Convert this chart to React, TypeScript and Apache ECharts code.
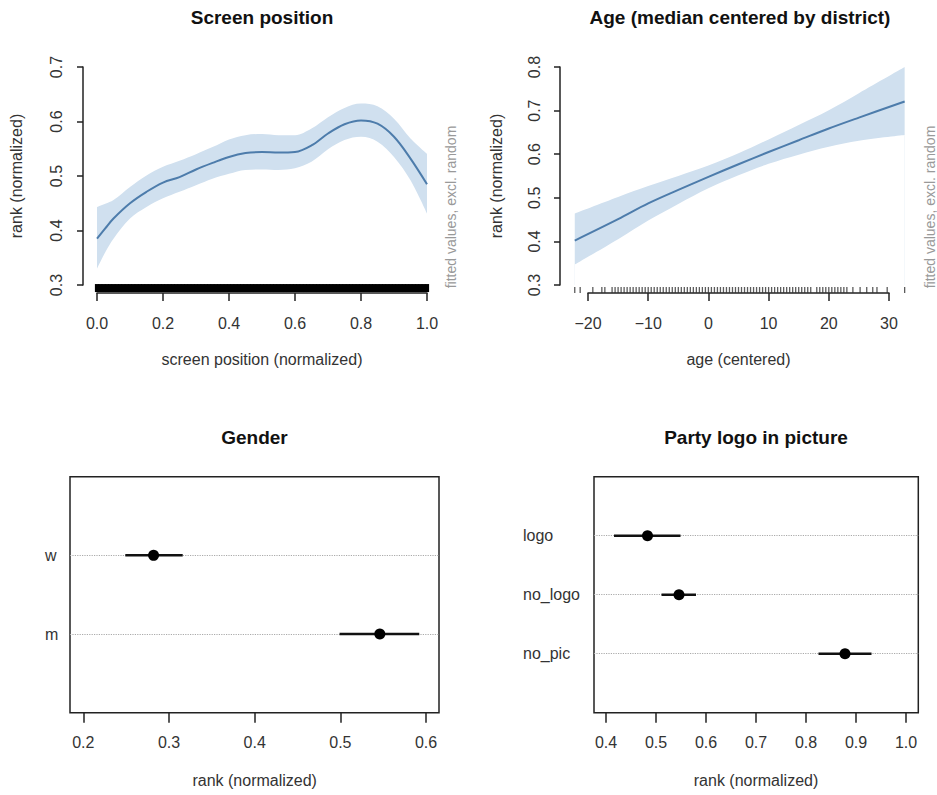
import React, { useEffect, useRef } from 'react';
import * as echarts from 'echarts';

const FONT = 'Liberation Sans, Arial, Helvetica, sans-serif';

// Panel 1: screen position smooth
const screenX = [0, 0.025, 0.05, 0.1, 0.15, 0.2, 0.25, 0.3, 0.35, 0.4, 0.45, 0.5, 0.55, 0.6, 0.65, 0.7, 0.75, 0.8, 0.85, 0.9, 0.95, 1.0];
const screenFit = [0.385, 0.404, 0.422, 0.450, 0.471, 0.488, 0.498, 0.512, 0.524, 0.535, 0.542, 0.544, 0.543, 0.544, 0.556, 0.578, 0.595, 0.602, 0.596, 0.572, 0.532, 0.485];
const screenHi = [0.443, 0.449, 0.456, 0.480, 0.501, 0.517, 0.528, 0.540, 0.553, 0.567, 0.575, 0.577, 0.575, 0.575, 0.587, 0.608, 0.625, 0.633, 0.628, 0.605, 0.569, 0.541];
const screenLo = [0.330, 0.360, 0.385, 0.422, 0.443, 0.459, 0.471, 0.483, 0.495, 0.504, 0.511, 0.512, 0.511, 0.514, 0.526, 0.549, 0.566, 0.572, 0.563, 0.535, 0.492, 0.431];
const screenRug = [
  0, 0.01, 0.02, 0.03, 0.04, 0.05, 0.06, 0.07, 0.08, 0.09, 0.1, 0.11, 0.12, 0.13, 0.14, 0.15, 0.16, 0.17, 0.18, 0.19,
  0.2, 0.21, 0.22, 0.23, 0.24, 0.25, 0.26, 0.27, 0.28, 0.29, 0.3, 0.31, 0.32, 0.33, 0.34, 0.35, 0.36, 0.37, 0.38, 0.39,
  0.4, 0.41, 0.42, 0.43, 0.44, 0.45, 0.46, 0.47, 0.48, 0.49, 0.5, 0.51, 0.52, 0.53, 0.54, 0.55, 0.56, 0.57, 0.58, 0.59,
  0.6, 0.61, 0.62, 0.63, 0.64, 0.65, 0.66, 0.67, 0.68, 0.69, 0.7, 0.71, 0.72, 0.73, 0.74, 0.75, 0.76, 0.77, 0.78, 0.79,
  0.8, 0.81, 0.82, 0.83, 0.84, 0.85, 0.86, 0.87, 0.88, 0.89, 0.9, 0.91, 0.92, 0.93, 0.94, 0.95, 0.96, 0.97, 0.98, 0.99, 1.0,
];

// Panel 2: age
const ageX = [-22.2, -15, -10, -5, 0, 5, 10, 15, 20, 25, 32.6];
const ageFit = [0.402, 0.451, 0.487, 0.518, 0.548, 0.577, 0.605, 0.632, 0.659, 0.684, 0.721];
const ageHi = [0.464, 0.502, 0.527, 0.550, 0.574, 0.602, 0.634, 0.667, 0.701, 0.740, 0.800];
const ageLo = [0.347, 0.405, 0.448, 0.486, 0.522, 0.552, 0.578, 0.599, 0.617, 0.631, 0.644];
const ageRug = [
  -22.2, -21.3, -19.2, -17.7, -17.2,
  -16, -15.5, -15, -14.5, -14, -13.5, -13, -12.5, -12, -11.5, -11, -10.5, -10, -9.5, -9, -8.5, -8, -7.5, -7, -6.5,
  -6, -5.5, -5, -4.5, -4, -3.5, -3, -2.5, -2, -1.5, -1, -0.5, 0, 0.5, 1, 1.5, 2, 2.5, 3, 3.5, 4, 4.5, 5, 5.5, 6,
  6.5, 7, 7.5, 8, 8.5, 9, 9.5, 10, 10.5, 11, 11.5, 12, 12.5, 13, 13.5, 14, 14.5, 15, 15.5, 16, 16.5, 17, 18, 18.5,
  19, 19.5, 20, 20.5, 21, 21.5, 22, 22.5, 23, 24, 25.2, 26.3, 27.3, 28, 29.7, 32.6,
];

// Panel 3: gender
const genderCats = ['w', 'm'];
const genderEst = [0.282, 0.546];
const genderLo = [0.249, 0.499];
const genderHi = [0.316, 0.592];

// Panel 4: party logo
const partyCats = ['logo', 'no_logo', 'no_pic'];
const partyEst = [0.483, 0.546, 0.878];
const partyLo = [0.416, 0.511, 0.825];
const partyHi = [0.549, 0.580, 0.931];

const LINE = '#4d7cab';
const BAND = '#d0e0ef';
const AXC = '#222';
const TXT = '#333';

const lbl = { fontSize: 16, color: TXT, fontFamily: FONT };
const axLine = { show: true, onZero: false, lineStyle: { color: AXC, width: 1.5 } };
const fmt1 = (v: number) => v.toFixed(1);
const fmtInt = (v: number) => (v < 0 ? '\u2212' + Math.abs(v) : String(v));

// confidence band: upper area in band colour, lower area in white on top of it
function bandSeries(xs: number[], lo: number[], hi: number[], xi: number, yi: number) {
  return [
    {
      type: 'line', xAxisIndex: xi, yAxisIndex: yi, smooth: 0.35, symbol: 'none', z: 1,
      lineStyle: { width: 0, opacity: 0 }, areaStyle: { color: BAND, opacity: 1 },
      data: xs.map((x, i) => [x, hi[i]]), silent: true,
    },
    {
      type: 'line', xAxisIndex: xi, yAxisIndex: yi, smooth: 0.35, symbol: 'none', z: 2,
      lineStyle: { width: 0, opacity: 0 }, areaStyle: { color: '#ffffff', opacity: 1 },
      data: xs.map((x, i) => [x, lo[i]]), silent: true,
    },
  ];
}

function dotSeries(cats: string[], est: number[], lo: number[], hi: number[], xi: number, yi: number) {
  const n = cats.length;
  const out: any[] = [];
  cats.forEach((c, i) => {
    out.push({
      type: 'line', xAxisIndex: xi, yAxisIndex: yi, symbol: 'none', silent: true,
      lineStyle: { color: '#111', width: 2.5 },
      data: [[lo[i], n - i], [hi[i], n - i]],
      markLine: i === 0 ? {
        silent: true, symbol: ['none', 'none'], label: { show: false }, z: 1,
        lineStyle: { type: 'dotted', color: '#aaa', width: 1.2 },
        data: cats.map((_, k) => ({ yAxis: n - k })),
      } : undefined,
      z: 3,
    });
  });
  out.push({
    type: 'scatter', xAxisIndex: xi, yAxisIndex: yi, symbol: 'circle', symbolSize: 11,
    itemStyle: { color: '#000', opacity: 1 }, data: est.map((v, i) => [v, n - i]), z: 4,
  });
  return out;
}

// layout
const gLeftBox = 70, gRightBox = 439, gAx0 = 83.3, gAx1 = 426.1;
const gUnit = (gAx1 - gAx0) / 0.4;
const gMin = 0.2 - (gAx0 - gLeftBox) / gUnit;
const gMax = 0.6 + (gRightBox - gAx1) / gUnit;
const pLeftBox = 594, pRightBox = 918.3, pAx0 = 606, pAx1 = 906;
const pUnit = (pAx1 - pAx0) / 0.6;
const pMin = 0.4 - (pAx0 - pLeftBox) / pUnit;
const pMax = 1.0 + (pRightBox - pAx1) / pUnit;
const aAx0 = 588, aAx1 = 889;
const aUnit = (aAx1 - aAx0) / 50;
const aMin = -22.8, aMax = 33.2;
const aLeft = aAx0 + (aMin + 20) * aUnit;
const aWidth = (aMax - aMin) * aUnit;
const boxTop = 476.7, boxH = 236;

const hiddenX = (gi: number, min: number, max: number) => ({ gridIndex: gi, type: 'value', min, max, show: false });
const hiddenY = hiddenX;

const option: any = {
  animation: false,
  textStyle: { fontFamily: FONT },
  grid: [
    { left: 97, top: 67, width: 330, height: 218 },
    { left: 97, top: 284, width: 330, height: 9 },
    { left: aAx0, top: 67, width: aAx1 - aAx0, height: 218 },
    { left: aLeft, top: 287, width: aWidth, height: 6 },
    { left: aLeft, top: 67, width: aWidth, height: 218 },
    { left: gLeftBox, top: boxTop, width: gRightBox - gLeftBox, height: boxH, show: true, borderColor: AXC, borderWidth: 1.5, backgroundColor: 'transparent' },
    { left: gAx0, top: boxTop, width: gAx1 - gAx0, height: boxH },
    { left: pLeftBox, top: boxTop, width: pRightBox - pLeftBox, height: boxH, show: true, borderColor: AXC, borderWidth: 1.5, backgroundColor: 'transparent' },
    { left: pAx0, top: boxTop, width: pAx1 - pAx0, height: boxH },
  ],
  xAxis: [
    hiddenX(0, 0, 1),
    {
      gridIndex: 1, type: 'value', min: 0, max: 1, interval: 0.2, axisLine: axLine, z: 5,
      axisTick: { show: true, length: 8, lineStyle: { color: AXC, width: 1.5 } },
      axisLabel: { ...lbl, margin: 22, formatter: fmt1 }, splitLine: { show: false },
      name: 'screen position (normalized)', nameLocation: 'middle', nameGap: 58, nameTextStyle: lbl,
    },
    {
      gridIndex: 2, type: 'value', min: -20, max: 30, interval: 10, offset: 8, axisLine: axLine,
      axisTick: { show: true, length: 8, lineStyle: { color: AXC, width: 1.5 } },
      axisLabel: { ...lbl, margin: 22, formatter: fmtInt }, splitLine: { show: false },
      name: 'age (centered)', nameLocation: 'middle', nameGap: 58, nameTextStyle: lbl,
    },
    hiddenX(3, aMin, aMax),
    hiddenX(4, aMin, aMax),
    hiddenX(5, gMin, gMax),
    {
      gridIndex: 6, type: 'value', min: 0.2, max: 0.6, interval: 0.1, axisLine: { show: false, onZero: false },
      axisTick: { show: true, length: 10, lineStyle: { color: AXC, width: 1.5 } },
      axisLabel: { ...lbl, margin: 22, formatter: fmt1 }, splitLine: { show: false },
      name: 'rank (normalized)', nameLocation: 'middle', nameGap: 60, nameTextStyle: lbl,
    },
    hiddenX(7, pMin, pMax),
    {
      gridIndex: 8, type: 'value', min: 0.4, max: 1.0, interval: 0.1, axisLine: { show: false, onZero: false },
      axisTick: { show: true, length: 10, lineStyle: { color: AXC, width: 1.5 } },
      axisLabel: { ...lbl, margin: 22, formatter: fmt1 }, splitLine: { show: false },
      name: 'rank (normalized)', nameLocation: 'middle', nameGap: 60, nameTextStyle: lbl,
    },
  ],
  yAxis: [
    {
      gridIndex: 0, type: 'value', min: 0.3, max: 0.7, interval: 0.1, offset: 14, axisLine: axLine,
      axisTick: { show: true, length: 6, lineStyle: { color: AXC, width: 1.5 } },
      axisLabel: { ...lbl, rotate: 90, margin: 19, formatter: fmt1 }, splitLine: { show: false },
      name: 'rank (normalized)', nameLocation: 'middle', nameGap: 59, nameTextStyle: lbl,
    },
    hiddenY(1, 0, 1),
    {
      gridIndex: 2, type: 'value', min: 0.3, max: 0.8, interval: 0.1, offset: 28, axisLine: axLine,
      axisTick: { show: true, length: 6, lineStyle: { color: AXC, width: 1.5 } },
      axisLabel: { ...lbl, rotate: 90, margin: 18, formatter: fmt1 }, splitLine: { show: false },
      name: 'rank (normalized)', nameLocation: 'middle', nameGap: 56, nameTextStyle: lbl,
    },
    hiddenY(3, 0, 1),
    hiddenY(4, 0.3, 0.8),
    {
      gridIndex: 5, type: 'value', min: 0, max: genderCats.length + 1, interval: 1,
      axisLine: { show: false, onZero: false }, axisTick: { show: false }, splitLine: { show: false },
      axisLabel: {
        ...lbl, align: 'left', margin: gLeftBox - 45,
        formatter: (v: number) => (v >= 1 && v <= genderCats.length ? genderCats[genderCats.length - v] : ''),
      },
    },
    hiddenY(6, 0, 1),
    {
      gridIndex: 7, type: 'value', min: 0, max: partyCats.length + 1, interval: 1,
      axisLine: { show: false, onZero: false }, axisTick: { show: false }, splitLine: { show: false },
      axisLabel: {
        ...lbl, align: 'left', margin: pLeftBox - 523,
        formatter: (v: number) => (v >= 1 && v <= partyCats.length ? partyCats[partyCats.length - v] : ''),
      },
    },
    hiddenY(8, 0, 1),
  ],
  series: [
    ...bandSeries(screenX, screenLo, screenHi, 0, 0),
    {
      type: 'line', xAxisIndex: 0, yAxisIndex: 0, smooth: 0.35, symbol: 'none',
      lineStyle: { color: LINE, width: 2 }, data: screenX.map((x, i) => [x, screenFit[i]]), z: 3,
    },
    {
      type: 'scatter', xAxisIndex: 1, yAxisIndex: 1, symbol: 'rect', symbolSize: [4.2, 8],
      itemStyle: { color: '#000', opacity: 1 }, data: screenRug.map((x) => [x, 0.55]), silent: true,
    },
    ...bandSeries(ageX, ageLo, ageHi, 4, 4),
    {
      type: 'line', xAxisIndex: 4, yAxisIndex: 4, smooth: 0.35, symbol: 'none',
      lineStyle: { color: LINE, width: 2 }, data: ageX.map((x, i) => [x, ageFit[i]]), z: 3,
    },
    {
      type: 'scatter', xAxisIndex: 3, yAxisIndex: 3, symbol: 'rect', symbolSize: [1.3, 6],
      itemStyle: { color: '#333' }, data: ageRug.map((x) => [x, 0.5]), silent: true,
    },
    ...dotSeries(genderCats, genderEst, genderLo, genderHi, 5, 5),
    ...dotSeries(partyCats, partyEst, partyLo, partyHi, 7, 7),
  ],
  graphic: [
    { type: 'text', x: 262, y: 17, style: { text: 'Screen position', fontFamily: FONT, fontSize: 19, fontWeight: 'bold', fill: '#111', align: 'center', verticalAlign: 'middle' } },
    { type: 'text', x: 740, y: 17, style: { text: 'Age (median centered by district)', fontFamily: FONT, fontSize: 19, fontWeight: 'bold', fill: '#111', align: 'center', verticalAlign: 'middle' } },
    { type: 'text', x: 254.5, y: 437, style: { text: 'Gender', fontFamily: FONT, fontSize: 19, fontWeight: 'bold', fill: '#111', align: 'center', verticalAlign: 'middle' } },
    { type: 'text', x: 756, y: 437, style: { text: 'Party logo in picture', fontFamily: FONT, fontSize: 19, fontWeight: 'bold', fill: '#111', align: 'center', verticalAlign: 'middle' } },
    { type: 'text', x: 451, y: 207, rotation: Math.PI / 2, style: { text: 'fitted values, excl. random', fontFamily: FONT, fontSize: 14, fill: '#999', align: 'center', verticalAlign: 'middle' } },
    { type: 'text', x: 930, y: 207, rotation: Math.PI / 2, style: { text: 'fitted values, excl. random', fontFamily: FONT, fontSize: 14, fill: '#999', align: 'center', verticalAlign: 'middle' } },
  ],
};

export default function App() {
  const ref = useRef<HTMLDivElement>(null);
  useEffect(() => {
    const chart = echarts.init(ref.current!, null, { renderer: 'svg' });
    chart.setOption(option);
    return () => chart.dispose();
  }, []);
  return (
    <div
      ref={ref}
      style={{ position: 'absolute', left: 0, top: 0, width: 937, height: 795, background: '#fff' }}
    />
  );
}
